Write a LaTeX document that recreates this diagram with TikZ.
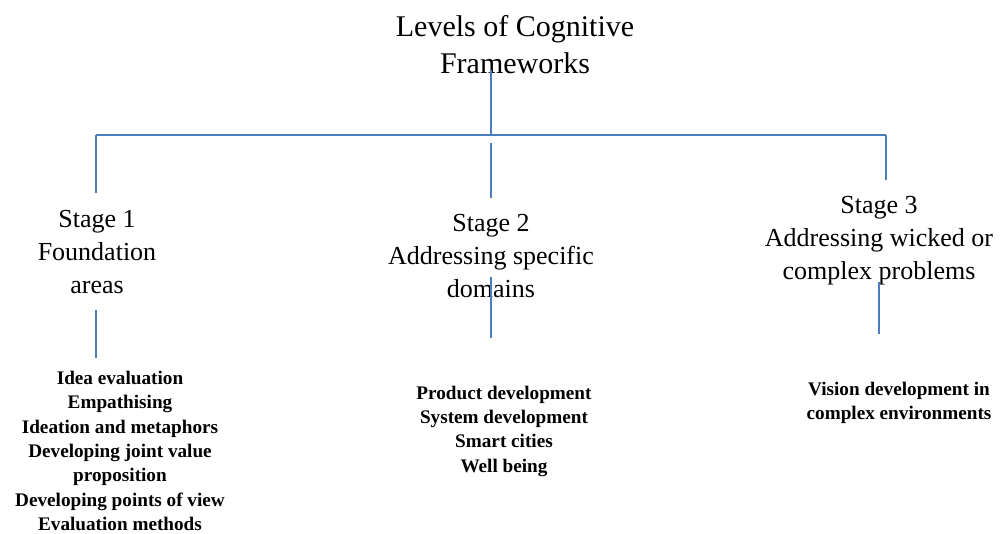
\documentclass[tikz,border=0pt]{standalone}
\usepackage{fontspec}
\setmainfont{Liberation Serif}
\definecolor{linkblue}{HTML}{4A7EBB}
\begin{document}
\begin{tikzpicture}[x=1pt,y=-1pt,
  link/.style={draw=linkblue,line width=1.3pt},
  titletext/.style={align=center,inner sep=0pt,font=\fontsize{30}{37}\selectfont},
  stagetext/.style={align=center,inner sep=0pt,font=\fontsize{26}{33}\selectfont},
  listtext/.style={align=center,inner sep=0pt,font=\bfseries\fontsize{19.2}{24.3}\selectfont}]
\useasboundingbox (0,0) rectangle (1000,533);
\fill[white] (0,0) rectangle (1000,533);
% nodes
\node[titletext] (title) at (515,45) {Levels of Cognitive\\Frameworks};
\node[stagetext] (s1) at (97,252) {Stage 1\\Foundation\\areas};
\node[stagetext] (s2) at (491,256) {Stage 2\\Addressing specific\\domains};
\node[stagetext] (s3) at (879,241) {Stage 3\\Addressing wicked or\\complex problems};
\node[listtext] (l1) at (120,451) {Idea evaluation\\Empathising\\Ideation and metaphors\\Developing joint value\\proposition\\Developing points of view\\Evaluation methods};
\node[listtext] (l2) at (504,431) {Product development\\System development\\Smart cities\\Well being};
\node[listtext] (l3) at (899,403) {Vision development in\\complex environments};
% connector points
\coordinate (tbot) at (491,70);
\coordinate (hc) at (491,135);
\coordinate (hl) at (96,135);
\coordinate (hr) at (886,135);
\coordinate (s1top) at (96,193);
\coordinate (s3top) at (886,180);
\coordinate (s2topa) at (491,143);
\coordinate (s2topb) at (491,198);
\coordinate (s1bot) at (96,310);
\coordinate (l1top) at (96,358);
\coordinate (s2bot) at (491,277);
\coordinate (l2top) at (491,338);
\coordinate (s3bot) at (879,282);
\coordinate (l3top) at (879,334);
% connectors
\draw[link] (tbot) -- (hc);
\draw[link] (hl) -- (hr);
\draw[link] (hl) -- (s1top);
\draw[link] (hr) -- (s3top);
\draw[link] (s2topa) -- (s2topb);
\draw[link] (s1bot) -- (l1top);
\draw[link] (s2bot) -- (l2top);
\draw[link] (s3bot) -- (l3top);
\end{tikzpicture}
\end{document}
